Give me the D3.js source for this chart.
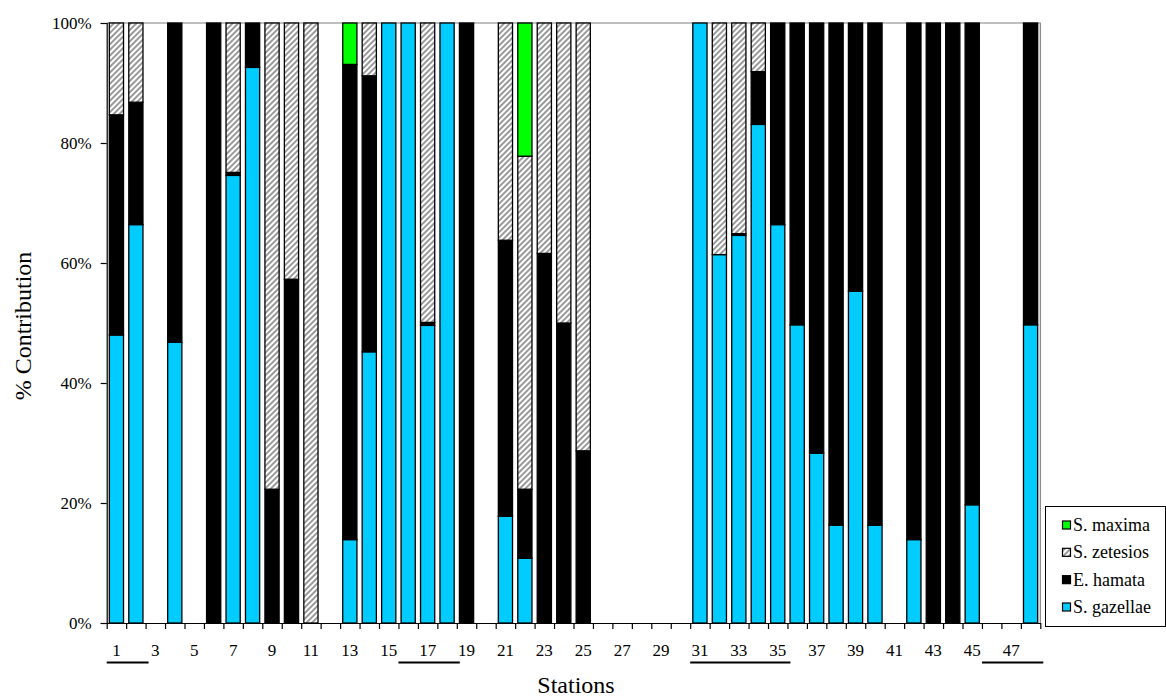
<!DOCTYPE html>
<html>
<head>
<meta charset="utf-8">
<script src="https://cdn.jsdelivr.net/npm/d3@7"></script>
<style>
  html, body { margin: 0; padding: 0; background: #fff; }
  svg { display: block; }
  text { font-family: "Liberation Serif", "Times New Roman", serif; fill: #000; }
</style>
</head>
<body>
<svg id="chart" width="1166" height="698"></svg>
<script>
// ---- data ----
const stations = [1,2,3,4,5,6,7,8,9,10,11,12,13,14,15,16,17,18,19,20,21,22,23,24,25,26,27,28,29,30,31,32,33,34,35,36,37,38,39,40,41,42,43,44,45,46,47,48];
//                 1    2    3  4    5  6    7    8   9   10  11  12  13   14   15  16  17   18  19  20 21   22   23 24 25 26 27 28 29 30 31   32   33   34   35   36   37   38   39   40  41  42  43 44 45  46 47 48
const gazellae = [48, 66.4, 0, 46.8, 0, 0, 74.6, 92.6, 0, 0, 0, 0, 13.9, 45.2, 100, 100, 49.6, 100, 0, 0, 17.8, 10.8, 0, 0, 0, 0, 0, 0, 0, 0, 100, 61.4, 64.6, 83.1, 66.4, 49.7, 28.3, 16.3, 55.3, 16.3, 0, 13.9, 0, 0, 19.7, 0, 0, 49.7];
const hamata   = [36.7, 20.4, 0, 53.2, 0, 100, 0.5, 7.4, 22.3, 57.3, 0, 0, 79.2, 46, 0, 0, 0.5, 0, 100, 0, 46, 11.5, 61.6, 50, 28.7, 0, 0, 0, 0, 0, 0, 0, 0.3, 8.8, 33.6, 50.3, 71.7, 83.7, 44.7, 83.7, 0, 86.1, 100, 100, 80.3, 0, 0, 50.3];
const zetesios = [15.3, 13.2, 0, 0, 0, 0, 24.9, 0, 77.7, 42.7, 100, 0, 0, 8.8, 0, 0, 49.9, 0, 0, 0, 36.2, 55.5, 38.4, 50, 71.3, 0, 0, 0, 0, 0, 0, 38.6, 35.1, 8.1, 0, 0, 0, 0, 0, 0, 0, 0, 0, 0, 0, 0, 0, 0];
const maxima   = [0, 0, 0, 0, 0, 0, 0, 0, 0, 0, 0, 0, 6.9, 0, 0, 0, 0, 0, 0, 0, 0, 22.2, 0, 0, 0, 0, 0, 0, 0, 0, 0, 0, 0, 0, 0, 0, 0, 0, 0, 0, 0, 0, 0, 0, 0, 0, 0, 0];
const seriesNames = ["S. gazellae", "E. hamata", "S. zetesios", "S. maxima"];
const yTicks = [0, 20, 40, 60, 80, 100];
const xTickLabels = [1,3,5,7,9,11,13,15,17,19,21,23,25,27,29,31,33,35,37,39,41,43,45,47];
const groupStart = [1, 16, 31, 46];
const groupEnd   = [2, 18, 35, 48];

// ---- layout ----
const svg = d3.select("#chart");
const pLeft = 106.7, pRight = 1040.3, pTop = 23, pBottom = 623;
const FONT = '"Liberation Serif", "Times New Roman", serif';

const x = d3.scaleBand().domain(stations).range([pLeft, pRight]).paddingInner(0.27).paddingOuter(0.135);
const y = d3.scaleLinear().domain([0, 100]).range([pBottom, pTop]);

// hatch pattern
const defs = svg.append("defs");
const pat = defs.append("pattern").attr("id", "hatch").attr("patternUnits", "userSpaceOnUse")
  .attr("width", 4).attr("height", 4).attr("patternTransform", "rotate(45)");
pat.append("rect").attr("width", 4).attr("height", 4).attr("fill", "#fff");
pat.append("rect").attr("width", 2).attr("height", 4).attr("fill", "#9a9a9a");

const fills = {"S. gazellae": "#00ccff", "E. hamata": "#000000", "S. zetesios": "url(#hatch)", "S. maxima": "#00ff00"};

// table for stacking
const table = stations.map((s, i) => ({
  station: s,
  "S. gazellae": gazellae[i],
  "E. hamata": hamata[i],
  "S. zetesios": zetesios[i],
  "S. maxima": maxima[i]
}));
const stacked = d3.stack().keys(seriesNames)(table);

// plot frame (top & right gray)
svg.append("path")
  .attr("d", `M${pLeft},${pTop}H${pRight}V${pBottom}`)
  .attr("fill", "none").attr("stroke", "#808080").attr("stroke-width", 1.2);

// bars
const gBars = svg.append("g");
stacked.forEach(layer => {
  gBars.append("g").selectAll("rect")
    .data(layer.filter(d => d[1] - d[0] > 0))
    .join("rect")
    .attr("x", d => x(d.data.station))
    .attr("width", x.bandwidth())
    .attr("y", d => y(d[1]))
    .attr("height", d => y(d[0]) - y(d[1]))
    .attr("fill", fills[layer.key])
    .attr("stroke", "#000")
    .attr("stroke-width", 1.3);
});

// y axis
const yAxis = d3.axisLeft(y).tickValues(yTicks).tickFormat(d => d + "%").tickSize(6).tickPadding(9);
const gy = svg.append("g").attr("transform", `translate(${pLeft},0)`).call(yAxis)
  .attr("font-family", FONT).attr("font-size", 17);
gy.select(".domain").attr("stroke", "#000").attr("stroke-width", 1.2);
gy.selectAll(".tick line").attr("stroke", "#000").attr("stroke-width", 1.2);

// x axis: ticks at band boundaries
const xb = d3.scaleLinear().domain([0, stations.length]).range([pLeft, pRight]);
const gx = svg.append("g").attr("transform", `translate(0,${pBottom})`)
  .call(d3.axisBottom(xb).tickValues(d3.range(0, stations.length + 1)).tickFormat("").tickSize(6).tickSizeOuter(0));
gx.select(".domain").attr("stroke", "#000").attr("stroke-width", 1.2);
gx.selectAll(".tick line").attr("stroke", "#000").attr("stroke-width", 1.2);

svg.append("g").attr("font-family", FONT).attr("font-size", 17)
  .selectAll("text").data(xTickLabels).join("text")
  .attr("x", d => x(d) + x.bandwidth() / 2)
  .attr("y", 656)
  .attr("text-anchor", "middle")
  .text(d => d);

// group underlines
svg.append("g").selectAll("line").data(groupStart.map((s, i) => [s, groupEnd[i]])).join("line")
  .attr("x1", d => xb(d[0] - 1))
  .attr("x2", d => xb(d[1]) + 3)
  .attr("y1", 662.5).attr("y2", 662.5)
  .attr("stroke", "#000").attr("stroke-width", 2);

// axis titles
svg.append("text").attr("x", 576).attr("y", 693).attr("text-anchor", "middle")
  .attr("font-family", FONT).attr("font-size", 24).text("Stations");
svg.append("text").attr("transform", "translate(31,326) rotate(-90)").attr("text-anchor", "middle")
  .attr("font-family", FONT).attr("font-size", 24).text("% Contribution");

// legend
const legendOrder = ["S. maxima", "S. zetesios", "E. hamata", "S. gazellae"];
const lg = svg.append("g");
lg.append("rect").attr("x", 1045.5).attr("y", 506.5).attr("width", 120).attr("height", 120)
  .attr("fill", "#fff").attr("stroke", "#000").attr("stroke-width", 1);
const rowY = d3.scalePoint().domain(legendOrder).range([525, 607]);
legendOrder.forEach(k => {
  lg.append("rect").attr("x", 1062.5).attr("y", rowY(k) - 4).attr("width", 8).attr("height", 8)
    .attr("fill", fills[k]).attr("stroke", "#000").attr("stroke-width", 1.2);
  lg.append("text").attr("x", 1073).attr("y", rowY(k) + 6)
    .attr("font-family", FONT).attr("font-size", 18).text(k);
});
</script>
</body>
</html>
